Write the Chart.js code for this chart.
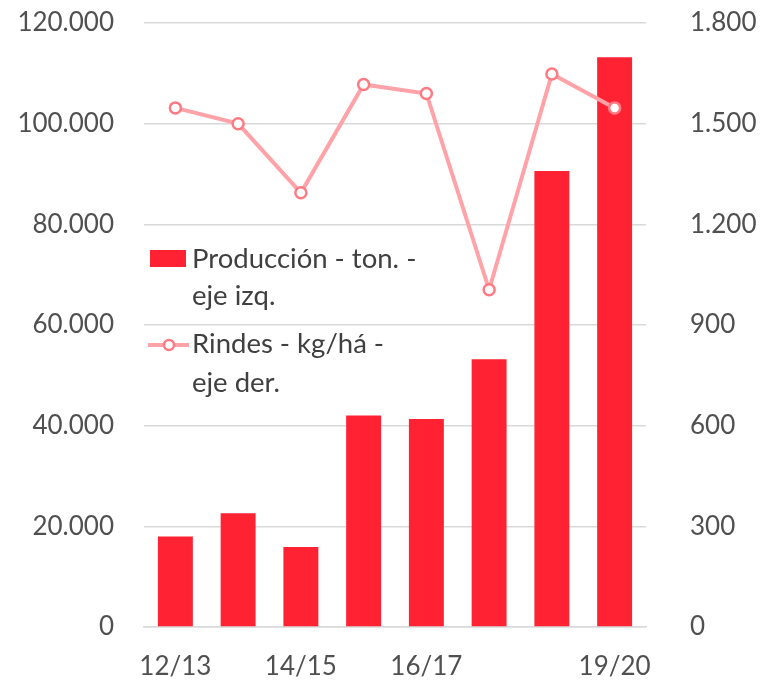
<!DOCTYPE html>
<html>
<head>
<meta charset="utf-8">
<script src="https://cdn.jsdelivr.net/npm/chart.js@4.4.1/dist/chart.umd.min.js"></script>
<style>
html,body{margin:0;padding:0;background:#fff;}
#wrap{width:765px;height:680px;position:relative;}
</style>
</head>
<body>
<div id="wrap"><canvas id="c" width="765" height="680"></canvas></div>
<script>
const categories = ['12/13','13/14','14/15','15/16','16/17','17/18','18/19','19/20'];
const produccion = [18000, 22600, 15900, 42000, 41300, 53200, 90600, 113200];
const rindes = [1547, 1500, 1294, 1617, 1590, 1005, 1648, 1547];
const shownLabels = ['12/13','14/15','16/17','19/20'];
const legendProduccion = ['Producción - ton. -', 'eje izq.'];
const legendRindes = ['Rindes - kg/há -', 'eje der.'];

const BAR_COLOR = '#FF2233';
const LINE_COLOR = '#FFA3A8';
const MARKER_BORDER = '#FF7A82';
const TEXT_COLOR = '#505050';
const FONT = 'Lato';

function fmt(v){
  return String(Math.round(v)).replace(/\B(?=(\d{3})+(?!\d))/g, '.');
}

const legendPlugin = {
  id: 'inlineLegend',
  afterDatasetsDraw(chart){
    const ctx = chart.ctx;
    ctx.save();
    ctx.font = '27.5px ' + FONT;
    ctx.textBaseline = 'alphabetic';
    ctx.textAlign = 'left';
    // Producción
    ctx.fillStyle = BAR_COLOR;
    ctx.fillRect(150, 250, 36, 17);
    ctx.fillStyle = '#404040';
    ctx.fillText(legendProduccion[0], 192, 268);
    ctx.fillText(legendProduccion[1], 192, 305);
    // Rindes
    ctx.strokeStyle = LINE_COLOR;
    ctx.lineWidth = 4;
    ctx.beginPath();
    ctx.moveTo(148, 345);
    ctx.lineTo(189, 345);
    ctx.stroke();
    ctx.beginPath();
    ctx.arc(169, 345, 5, 0, Math.PI*2);
    ctx.fillStyle = '#fff';
    ctx.fill();
    ctx.lineWidth = 2.5;
    ctx.strokeStyle = MARKER_BORDER;
    ctx.stroke();
    ctx.fillStyle = '#404040';
    ctx.fillText(legendRindes[0], 192, 353);
    ctx.fillText(legendRindes[1], 192, 392);
    ctx.restore();
  }
};

new Chart(document.getElementById('c'), {
  data: {
    labels: categories,
    datasets: [
      {
        type: 'line',
        label: 'Rindes - kg/há - eje der.',
        data: rindes,
        yAxisID: 'y2',
        borderColor: LINE_COLOR,
        borderWidth: 4,
        pointRadius: 5.5,
        pointBorderWidth: 2.5,
        pointBackgroundColor: '#ffffff',
        pointBorderColor: MARKER_BORDER,
        tension: 0,
        order: 0
      },
      {
        type: 'bar',
        label: 'Producción - ton. - eje izq.',
        data: produccion,
        yAxisID: 'y',
        backgroundColor: BAR_COLOR,
        categoryPercentage: 1,
        barPercentage: 0.557,
        order: 1
      }
    ]
  },
  plugins: [legendPlugin],
  options: {
    responsive: false,
    animation: false,
    layout: { padding: { top: 23, left: 0, right: 0, bottom: 0 } },
    plugins: { legend: { display: false }, tooltip: { enabled: false } },
    scales: {
      x: {
        grid: { display: false, drawTicks: false },
        border: { display: true, color: '#D9D9D9', width: 1.5 },
        ticks: {
          autoSkip: false,
          maxRotation: 0,
          padding: 24,
          color: TEXT_COLOR,
          font: { family: FONT, size: 26 },
          callback: function(v, i){ const l = categories[i]; return shownLabels.includes(l) ? l : ''; }
        },
        afterFit(s){ s.height = 53; s.paddingLeft = 0; s.paddingRight = 0; }
      },
      y: {
        position: 'left',
        min: 0, max: 120000,
        ticks: {
          stepSize: 20000,
          padding: 30,
          color: TEXT_COLOR,
          font: { family: FONT, size: 26 },
          callback: v => fmt(v)
        },
        grid: { color: '#D9D9D9', lineWidth: 1.5, drawTicks: false },
        border: { display: false },
        afterFit(s){ s.width = 144; s.paddingTop = 0; s.paddingBottom = 0; }
      },
      y2: {
        position: 'right',
        min: 0, max: 1800,
        ticks: {
          stepSize: 300,
          padding: 44,
          color: TEXT_COLOR,
          font: { family: FONT, size: 26 },
          callback: v => fmt(v)
        },
        grid: { display: false, drawTicks: false },
        border: { display: false },
        afterFit(s){ s.width = 119; s.paddingTop = 0; s.paddingBottom = 0; }
      }
    }
  }
});
</script>
</body>
</html>
